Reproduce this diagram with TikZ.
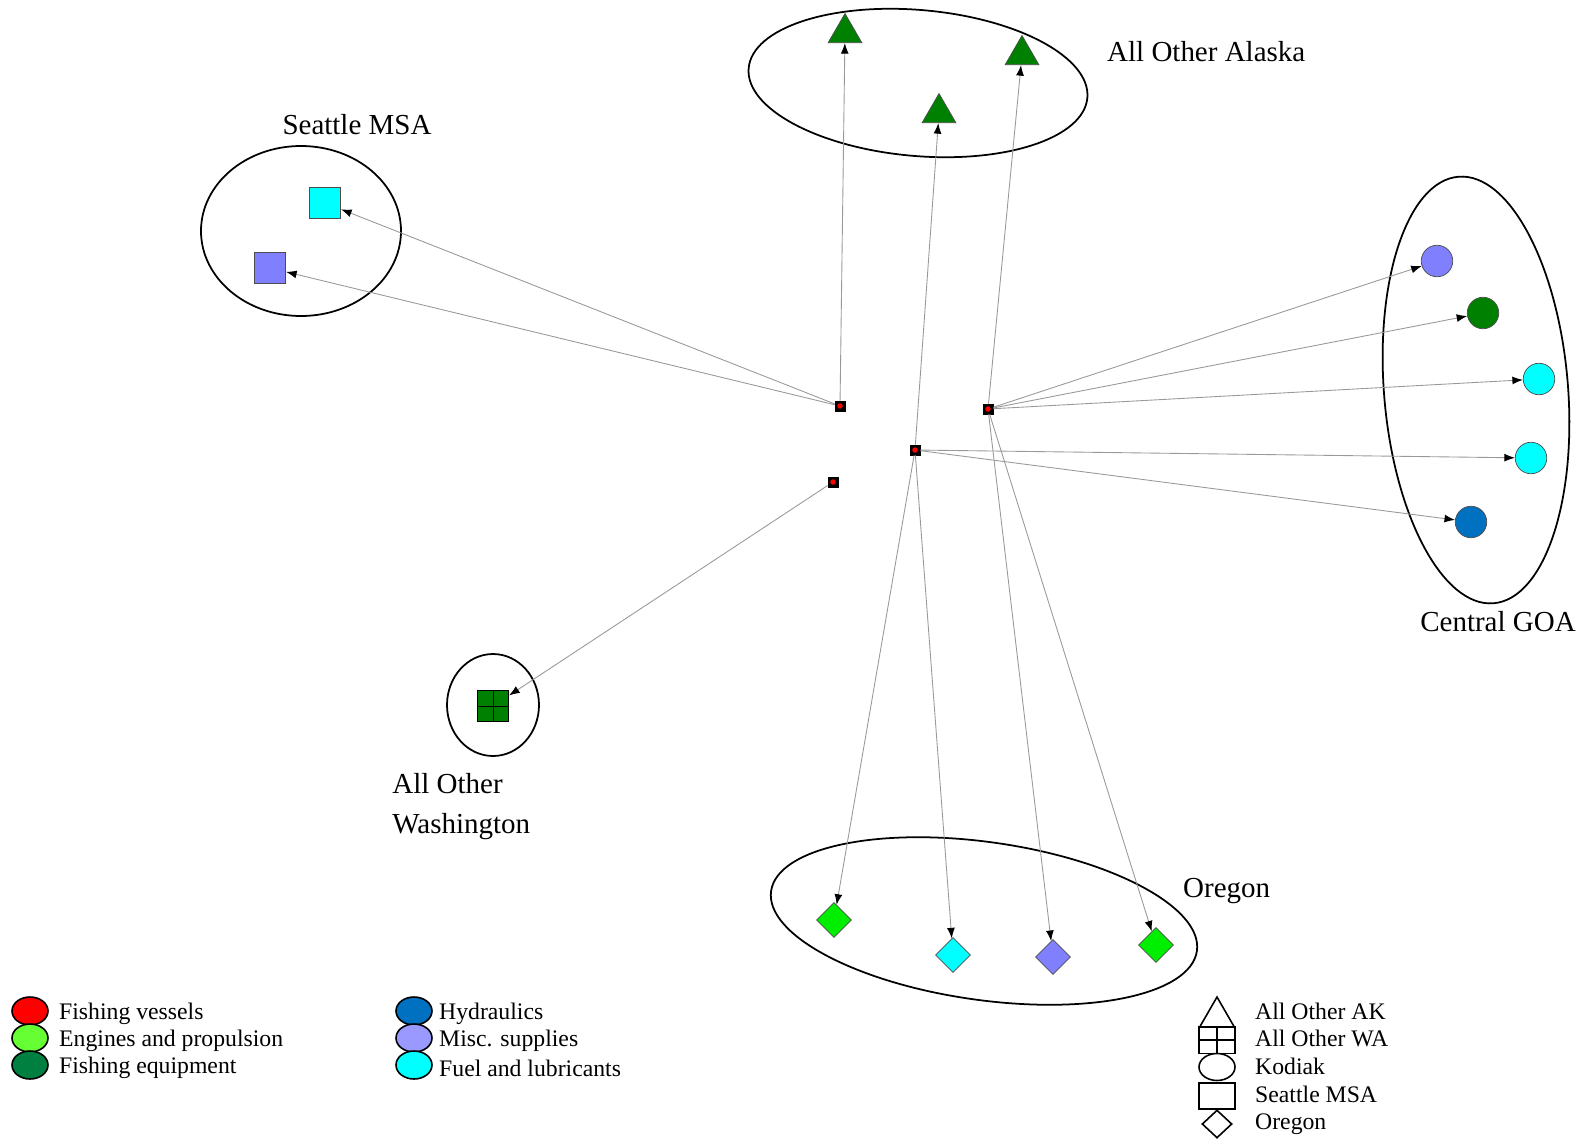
\documentclass[tikz,border=0pt]{standalone}
\usepackage{fontspec}
\setmainfont{Liberation Serif}
\usetikzlibrary{arrows.meta,shapes.geometric}
\definecolor{akgreen}{RGB}{0,128,0}
\definecolor{engreen}{RGB}{102,255,51}
\definecolor{eqgreen}{RGB}{0,128,64}
\definecolor{hyblue}{RGB}{0,112,192}
\definecolor{miscblue}{RGB}{128,128,255}
\definecolor{keymisc}{RGB}{153,153,255}
\definecolor{fuelcyan}{RGB}{0,255,255}
\definecolor{dmdgreen}{RGB}{0,238,0}

\begin{document}
\begin{tikzpicture}[x=0.02cm,y=-0.02cm,
  every node/.style={font=\fontsize{16.5}{22.5}\selectfont},
  src/.style={draw=black,fill=black,minimum size=0.2cm,inner sep=0pt,
    path picture={\fill[red] (path picture bounding box.center) circle (0.055cm);}},
  link/.style={draw=black!40,line width=0.5pt,-{Latex[color=black,length=6pt,width=4.5pt]}},
  grp/.style={line width=1pt},
  akn/.style={regular polygon,regular polygon sides=3,draw=black!70,fill=akgreen,minimum size=0.78cm,inner sep=0pt},
  sean/.style={rectangle,draw=black!70,minimum size=0.63cm,inner sep=0pt},
  kodn/.style={circle,draw=black!70,minimum size=0.63cm,inner sep=0pt},
  oren/.style={diamond,draw=black!70,minimum size=0.7cm,inner sep=0pt},
  wan/.style={rectangle,draw=black,fill=akgreen,minimum size=0.63cm,inner sep=0pt,
    path picture={\draw (path picture bounding box.north)--(path picture bounding box.south)
      (path picture bounding box.west)--(path picture bounding box.east);}},
  keyc/.style={ellipse,draw=black,line width=0.9pt,minimum width=0.72cm,minimum height=0.56cm,inner sep=0pt},
  keytxt/.style={anchor=west,font=\fontsize{13.5}{16}\selectfont},
  keys/.style={draw=black,line width=0.9pt,inner sep=0pt}]
  \useasboundingbox (0,0) rectangle (1583,1139);

  % group outlines
  \draw[grp,rotate around={-5:(918,83)}] (918,83) ellipse (170 and 73);
  \draw[grp] (301,231) ellipse (100 and 85);
  \draw[grp,rotate around={4.7:(1476,390)}] (1476,390) ellipse (92 and 214);
  \draw[grp] (493,705) ellipse (46 and 51);
  \draw[grp,rotate around={-8:(984,921)}] (984,921) ellipse (215 and 79);

  % group labels
  \node[anchor=west] (lak) at (1101,52) {All Other Alaska};
  \node (lsea) at (357,125) {Seattle MSA};
  \node (lgoa) at (1498,622) {Central GOA};
  \node[anchor=west] (lore) at (1177,891) {Oregon};
  \node[anchor=north west,align=left,inner sep=0pt] (lwa) at (392,773) {All Other\\Washington};

  % sellers
  \node[src] (s1) at (840,406) {};
  \node[src] (s2) at (988,409) {};
  \node[src] (s3) at (915,450) {};
  \node[src] (s4) at (833,482) {};

  % All Other Alaska
  \node[akn] (ak1) at (845,33) {};
  \node[akn] (ak2) at (1022,55) {};
  \node[akn] (ak3) at (939,113) {};
  % Seattle MSA
  \node[sean,fill=fuelcyan] (sea1) at (325,203) {};
  \node[sean,fill=miscblue] (sea2) at (270,268) {};
  % Central GOA
  \node[kodn,fill=miscblue] (goa1) at (1437,261) {};
  \node[kodn,fill=akgreen] (goa2) at (1483,313) {};
  \node[kodn,fill=fuelcyan] (goa3) at (1539,379) {};
  \node[kodn,fill=fuelcyan] (goa4) at (1531,458) {};
  \node[kodn,fill=hyblue] (goa5) at (1471,522) {};
  % All Other Washington
  \node[wan] (wa1) at (493,706) {};
  % Oregon
  \node[oren,fill=dmdgreen] (ore1) at (834,920) {};
  \node[oren,fill=fuelcyan] (ore2) at (953,955) {};
  \node[oren,fill=miscblue] (ore3) at (1053,957) {};
  \node[oren,fill=dmdgreen] (ore4) at (1156,945) {};

  % purchases
  \draw[link] (s1) -- (ak1);
  \draw[link] (s1) -- (sea1);
  \draw[link] (s1) -- (sea2);
  \draw[link] (s2) -- (ak2);
  \draw[link] (s2) -- (goa1);
  \draw[link] (s2) -- (goa2);
  \draw[link] (s2) -- (goa3);
  \draw[link] (s2) -- (ore3);
  \draw[link] (s2) -- (ore4);
  \draw[link] (s3) -- (ak3);
  \draw[link] (s3) -- (goa4);
  \draw[link] (s3) -- (goa5);
  \draw[link] (s3) -- (ore1);
  \draw[link] (s3) -- (ore2);
  \draw[link] (s4) -- (wa1);

  % colour key
  \node[keyc,fill=red] (kc1) at (30,1011) {};
  \node[keyc,fill=engreen] (kc2) at (30,1038) {};
  \node[keyc,fill=eqgreen] (kc3) at (30,1065) {};
  \node[keytxt] at (53,1014) {Fishing vessels};
  \node[keytxt] at (53,1041) {Engines and propulsion};
  \node[keytxt] at (53,1068) {Fishing equipment};
  \node[keyc,fill=hyblue] (kc4) at (414,1011) {};
  \node[keyc,fill=keymisc] (kc5) at (414,1038) {};
  \node[keyc,fill=fuelcyan] (kc6) at (414,1065) {};
  \node[keytxt] at (433,1014) {Hydraulics};
  \node[keytxt] at (433,1041) {Misc. supplies};
  \node[keytxt] at (433,1068) {Fuel and lubricants};

  % shape key
  \node[keys,regular polygon,regular polygon sides=3,minimum size=0.8cm] (ks1) at (1217,1017) {};
  \node[keys,rectangle,minimum width=0.72cm,minimum height=0.54cm,
    path picture={\draw[line width=0.9pt] (path picture bounding box.north)--(path picture bounding box.south)
      (path picture bounding box.west)--(path picture bounding box.east);}] (ks2) at (1217,1040) {};
  \node[keys,ellipse,minimum width=0.72cm,minimum height=0.54cm] (ks3) at (1217,1067) {};
  \node[keys,rectangle,minimum width=0.72cm,minimum height=0.52cm] (ks4) at (1217,1096) {};
  \node[keys,diamond,minimum width=0.6cm,minimum height=0.56cm] (ks5) at (1217,1124) {};
  \node[keytxt] at (1249,1011) {All Other AK};
  \node[keytxt] at (1249,1038) {All Other WA};
  \node[keytxt] at (1249,1066) {Kodiak};
  \node[keytxt] at (1249,1094) {Seattle MSA};
  \node[keytxt] at (1249,1124) {Oregon};
\end{tikzpicture}
\end{document}
